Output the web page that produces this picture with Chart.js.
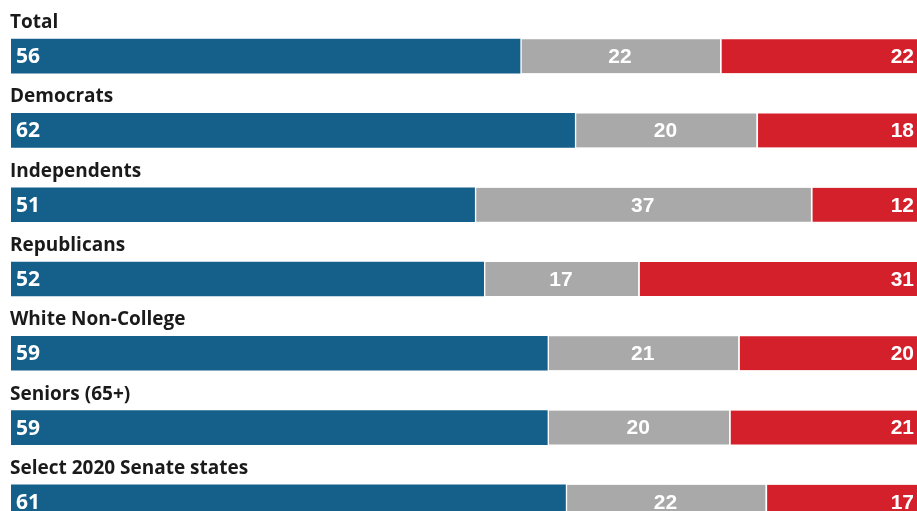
<!DOCTYPE html>
<html>
<head>
<meta charset="UTF-8">
<title>Poll by group</title>
<style>
html, body {
	margin: 0;
	padding: 0;
	background: #fff;
	overflow: hidden;
}
.chart-container {
	width: 920px;
	height: 540px;
}
</style>
<script src="https://cdn.jsdelivr.net/npm/chart.js"></script>
</head>
<body>
	<div class="chart-container">
		<canvas id="bar-chart"></canvas>
	</div>

	<script>
		const groups = ['Total', 'Democrats', 'Independents', 'Republicans',
				'White Non-College', 'Seniors (65+)', 'Select 2020 Senate states'];
		const blueVals = [56, 62, 51, 52, 59, 59, 61];
		const grayVals = [22, 20, 37, 17, 21, 20, 22];
		const redVals = [22, 18, 12, 31, 20, 21, 17];

		// group names above each bar and numbers inside the segments
		const labelPlugin = {
			id : 'barLabels',
			afterDatasetsDraw(chart) {
				const c = chart.ctx;
				c.save();
				const blueMeta = chart.getDatasetMeta(0);
				c.textBaseline = 'alphabetic';
				c.fillStyle = '#1a1a1a';
				c.font = 'bold 19px "Open Sans"';
				c.textAlign = 'left';
				blueMeta.data.forEach((bar, i) => {
					const top = bar.y - bar.height / 2;
					c.fillText(groups[i], 10, top - 11);
				});

				c.fillStyle = '#fff';
				c.textBaseline = 'middle';
				chart.data.datasets.forEach((ds, d) => {
					const meta = chart.getDatasetMeta(d);
					meta.data.forEach((bar, i) => {
						const v = ds.data[i];
						if (d === 0) {
							c.font = 'bold 21px "Open Sans"';
							c.textAlign = 'left';
							c.fillText(v, bar.base + 5, bar.y + 1);
						} else if (d === 1) {
							c.font = 'bold 21px "Liberation Sans"';
							c.textAlign = 'center';
							c.fillText(v, (bar.base + bar.x) / 2, bar.y + 1);
						} else {
							c.font = 'bold 21px "Liberation Sans"';
							c.textAlign = 'right';
							c.fillText(v, 914, bar.y + 1);
						}
					});
				});
				c.restore();
			}
		};

		const sep = { top : 0, right : 0, bottom : 0, left : 2 };

		let config = {
			type : 'bar',
			data : {
				labels : groups,
				datasets : [ {
					label : 'Blue',
					data : blueVals,
					backgroundColor : '#155f8b',
					borderWidth : 0
				}, {
					label : 'Gray',
					data : grayVals,
					backgroundColor : '#a9a9a9',
					borderColor : '#fff',
					borderWidth : sep,
					borderSkipped : false
				}, {
					label : 'Red',
					data : redVals,
					backgroundColor : '#d4202a',
					borderColor : '#fff',
					borderWidth : sep,
					borderSkipped : false
				} ]
			},
			options : {
				indexAxis : 'y',
				responsive : true,
				maintainAspectRatio : false,
				animation : false,
				layout : {
					padding : { left : 11, right : 0, top : 19, bottom : 1 }
				},
				datasets : {
					bar : {
						barThickness : 34,
						categoryPercentage : 1
					}
				},
				plugins : {
					legend : { display : false },
					tooltip : { enabled : false }
				},
				scales : {
					x : {
						stacked : true,
						min : 0,
						max : 100,
						display : false
					},
					y : {
						stacked : true,
						display : false
					}
				}
			},
			plugins : [ labelPlugin ]
		};
		new Chart(document.querySelector('#bar-chart'), config);
	</script>
</body>
</html>
